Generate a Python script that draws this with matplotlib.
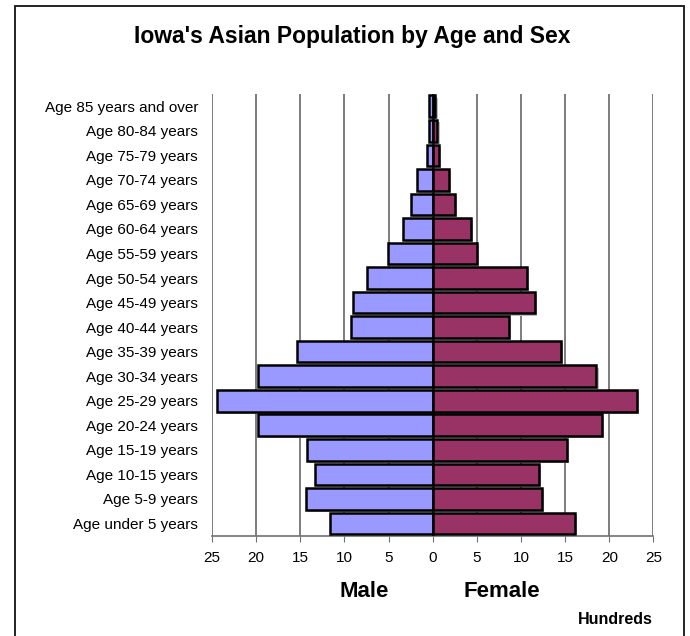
import matplotlib
matplotlib.use("Agg")
import matplotlib.pyplot as plt
import matplotlib.patheffects as pe
from matplotlib.patches import Rectangle

# age groups, oldest at the top
age_groups = ['Age 85 years and over', 'Age 80-84 years', 'Age 75-79 years',
              'Age 70-74 years', 'Age 65-69 years', 'Age 60-64 years',
              'Age 55-59 years', 'Age 50-54 years', 'Age 45-49 years',
              'Age 40-44 years', 'Age 35-39 years', 'Age 30-34 years',
              'Age 25-29 years', 'Age 20-24 years', 'Age 15-19 years',
              'Age 10-15 years', 'Age 5-9 years', 'Age under 5 years']

# population in hundreds
male = [0.45, 0.38, 0.65, 1.78, 2.45, 3.35, 5.1, 7.4, 9.0, 9.2,
        15.35, 19.8, 24.4, 19.8, 14.2, 13.3, 14.4, 11.65]
female = [0.3, 0.52, 0.68, 1.8, 2.55, 4.3, 5.0, 10.65, 11.55, 8.65,
          14.5, 18.55, 23.1, 19.2, 15.2, 12.0, 12.4, 16.1]

ticks = [-25, -20, -15, -10, -5, 0, 5, 10, 15, 20, 25]

plt.rcParams['font.family'] = ['Liberation Sans', 'DejaVu Sans']

fig = plt.figure(figsize=(6.9, 6.36), dpi=100)
fig.patch.set_facecolor('white')
ax = fig.add_axes([0.3072, 0.1577, 0.6398, 0.6945])

pos = list(range(len(age_groups)))
shadow = [pe.SimplePatchShadow(offset=(1.6, -1.6), shadow_rgbFace='#bdbdbd', alpha=1.0),
          pe.Normal()]

ax.barh(pos, [-v for v in male], height=0.88, color='#9999FF',
        edgecolor='black', linewidth=1.8, zorder=3, path_effects=shadow)
ax.barh(pos, female, height=0.88, color='#993366',
        edgecolor='black', linewidth=1.8, zorder=4, path_effects=shadow)

ax.set_xlim(-25, 25)
ax.set_ylim(len(age_groups) - 0.5, -0.5)
ax.set_xticks(ticks)
ax.set_xticklabels([str(abs(t)) for t in ticks], fontsize=11)
ax.set_yticks(pos)
ax.set_yticklabels(age_groups, fontsize=11)

ax.xaxis.grid(True, color='#5a5a5a', linewidth=1.1, zorder=0)
ax.set_axisbelow(True)
for side in ['top', 'right', 'left']:
    ax.spines[side].set_visible(False)
ax.spines['bottom'].set_color('#707070')
ax.spines['bottom'].set_linewidth(1.2)
ax.tick_params(axis='x', direction='out', length=4, color='#707070', pad=7)
ax.tick_params(axis='y', length=0, pad=10)

fig.text(352 / 690, 1 - 36 / 636, "Iowa's Asian Population by Age and Sex",
         ha='center', va='center', fontsize=16.5, fontweight='bold')
fig.text(364 / 690, 1 - 591.5 / 636, 'Male', ha='center', va='center',
         fontsize=16, fontweight='bold')
fig.text(502 / 690, 1 - 591.5 / 636, 'Female', ha='center', va='center',
         fontsize=16, fontweight='bold')
fig.text(653 / 690, 1 - 619 / 636, 'Hundreds', ha='right', va='center',
         fontsize=11.5, fontweight='bold')

# chart border
fig.patches.append(Rectangle((14.7 / 690, -0.05), (683.7 - 14.7) / 690, 1.05 - 6 / 636,
                             transform=fig.transFigure, fill=False,
                             edgecolor='#222222', linewidth=1.4))

fig.savefig('out.png', dpi=100, facecolor='white')
